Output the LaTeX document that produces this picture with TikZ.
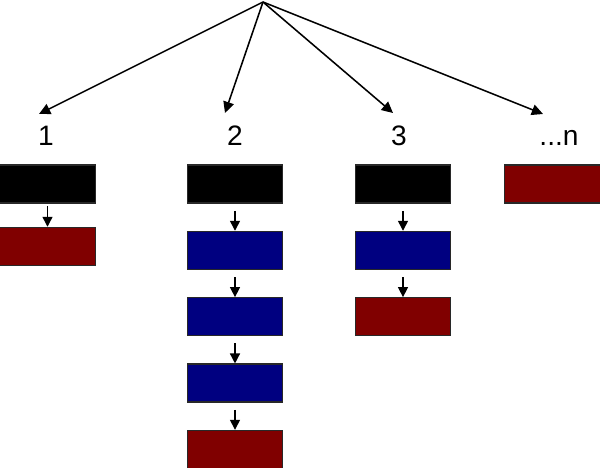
\documentclass[tikz,border=0pt]{standalone}
\usepackage{fontspec}
\setmainfont{Liberation Sans}
\usetikzlibrary{arrows.meta,positioning}
\definecolor{boxR}{RGB}{128,0,0}
\definecolor{boxB}{RGB}{0,0,128}
\definecolor{boxE}{RGB}{40,40,40}
\begin{document}
\begin{tikzpicture}[x=0.025cm,y=-0.025cm,>={Triangle[length=2.8mm,width=2.7mm]},
  blk/.style={draw=boxE,line width=0.8pt,minimum width=2.38cm,minimum height=0.95cm,inner sep=0pt},
  lab/.style={font=\fontsize{20}{24}\selectfont,inner sep=0pt,anchor=base},
  lnk/.style={-{Triangle[length=2.5mm,width=2.5mm]},line width=1pt,shorten <=0.18cm}]
\useasboundingbox (0,0) rectangle (600,468);
% labels and the fan from the top
\coordinate (top) at (263,2);
\node[lab] (l1) at (46,145) {1}; \node[lab] (l2) at (235,145) {2};
\node[lab] (l3) at (399,145) {3}; \node[lab] (l4) at (559,145) {...n};
\coordinate (t1) at (39,114); \coordinate (t2) at (225,113);
\coordinate (t3) at (393,113); \coordinate (t4) at (543,114);
\foreach \t in {t1,t2,t3,t4} { \draw[->,line width=1.1pt] (top) -- (\t); }
% column 1
\node[blk,fill=black] (a1) at (47.5,184) {};
\node[blk,fill=boxR,below=0.58cm of a1] (a2) {};
\draw[lnk,shorten <=0.06cm] (a1) -- (a2);
% column 2
\node[blk,fill=black] (b1) at (235,184) {};
\foreach \i/\j/\c in {1/2/boxB,2/3/boxB,3/4/boxB,4/5/boxR} {
 \node[blk,fill=\c,below=0.68cm of b\i] (b\j) {}; \draw[lnk] (b\i) -- (b\j); }
% column 3
\node[blk,fill=black] (c1) at (403,184) {};
\node[blk,fill=boxB,below=0.68cm of c1] (c2) {}; \draw[lnk] (c1) -- (c2);
\node[blk,fill=boxR,below=0.68cm of c2] (c3) {}; \draw[lnk] (c2) -- (c3);
% column n
\node[blk,fill=boxR] (d1) at (552.5,184) {};
\end{tikzpicture}
\end{document}
